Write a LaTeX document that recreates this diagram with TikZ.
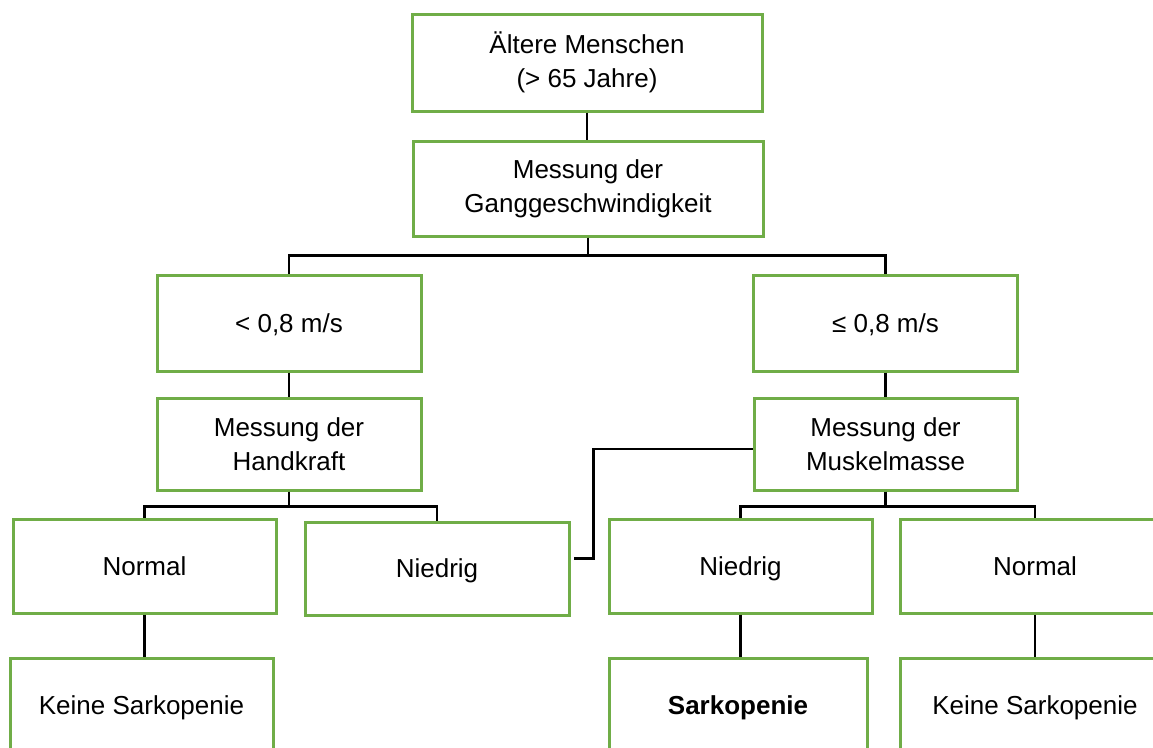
\documentclass[tikz,border=0pt]{standalone}
\usepackage{fontspec}
\setmainfont{Liberation Sans}
\definecolor{boxgreen}{HTML}{70AD47}
\begin{document}
\begin{tikzpicture}[x=1pt,y=-1pt,
  box/.style={draw=boxgreen, line width=3pt, inner sep=0pt, align=center,
    font=\fontsize{26}{34}\selectfont, text=black},
  oneline/.style={text depth=0pt},
  conn/.style={draw=black, line width=2.4pt}]
\useasboundingbox (0,0) rectangle (1153,747);
\clip (0,0) rectangle (1153,747);
% nodes
\node[box, minimum width=350pt, minimum height=97pt] (a) at (587,62.5) {Ältere Menschen\\(> 65 Jahre)};
\node[box, minimum width=350pt, minimum height=95pt] (b) at (588,188.5) {Messung der\\Ganggeschwindigkeit};
\node[box, oneline, minimum width=264pt, minimum height=96pt] (c) at (289,323) {< 0,8 m/s};
\node[box, oneline, minimum width=264pt, minimum height=96pt] (d) at (885.5,323) {≤ 0,8 m/s};
\node[box, minimum width=264pt, minimum height=92pt] (e) at (289,444) {Messung der\\Handkraft};
\node[box, minimum width=263pt, minimum height=92pt] (f) at (885.5,444) {Messung der\\Muskelmasse};
\node[box, oneline, minimum width=263pt, minimum height=94pt] (g) at (144.5,566) {Normal};
\node[box, oneline, minimum width=264pt, minimum height=93pt] (h) at (437,568.5) {Niedrig};
\node[box, oneline, minimum width=263pt, minimum height=94pt] (i) at (740.5,566) {Niedrig};
\node[box, oneline, minimum width=270pt, minimum height=94pt] (j) at (1035,566) {Normal};
\node[box, oneline, minimum width=263pt, minimum height=94pt] (k) at (141.5,705) {Keine Sarkopenie};
\node[box, oneline, minimum width=258pt, minimum height=94pt] (l) at (738,705) {\bfseries Sarkopenie};
\node[box, oneline, minimum width=270pt, minimum height=94pt] (m) at (1035,705) {Keine Sarkopenie};
% connectors
\draw[conn] (a.south) -- (a.south |- b.north);
\draw[conn] (b.south) -- ++(0,18) -| (c.north);
\draw[conn] (b.south) -- ++(0,18) -| (d.north);
\draw[conn] (c.south) -- (e.north);
\draw[conn] (d.south) -- (f.north);
\draw[conn] (e.south) -- ++(0,15) -| (g.north);
\draw[conn] (e.south) -- ++(0,15) -| (h.north);
\draw[conn] (f.south) -- ++(0,15) -| (i.north);
\draw[conn] (f.south) -- ++(0,15) -| (j.north);
\draw[conn] (g.south) -- (g.south |- k.north);
\draw[conn] (i.south) -- (i.south |- l.north);
\draw[conn] (j.south) -- (m.north);
\coordinate (fstart) at ([yshift=-5pt]f.west);
\coordinate (hend) at ([xshift=3pt,yshift=10pt]h.east);
\draw[conn] (fstart) -| ([xshift=20pt]hend) -- (hend);
\end{tikzpicture}
\end{document}
